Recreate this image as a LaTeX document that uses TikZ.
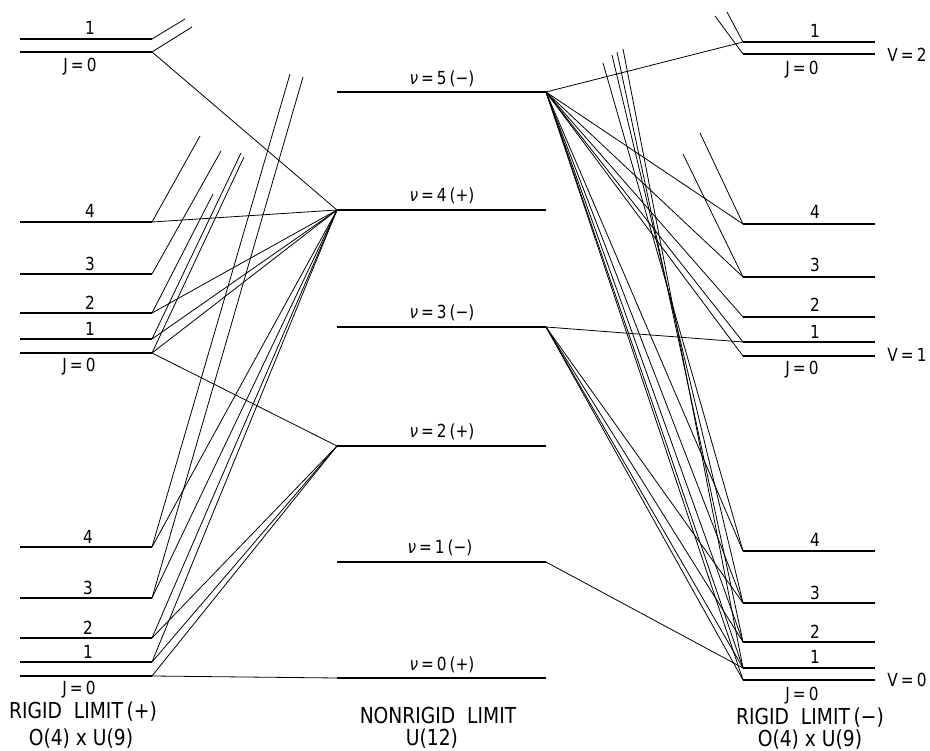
\documentclass[tikz,border=0pt]{standalone}
\usepackage{fontspec}
\setmainfont{DejaVu Sans}
\newfontfamily\nar[FakeStretch=0.85]{DejaVu Sans}
\newcommand{\nuv}{{\itshape ν}}
\begin{document}
\begin{tikzpicture}[x=1pt,y=-1pt,
  lvl/.style={line width=2.6pt},
  conn/.style={line width=0.8pt},
  lab/.style={font=\nar\fontsize{18}{18}\selectfont,inner sep=0pt},
  captxt/.style={font=\nar\fontsize{22}{22}\selectfont,inner sep=0pt}]
\useasboundingbox (0,0) rectangle (930,751);
% ---------- left level end points ----------
\coordinate (LA1) at (152,39);  \coordinate (LA0) at (152,52);
\coordinate (LB4) at (152,222); \coordinate (LB3) at (152,274);
\coordinate (LB2) at (152,313); \coordinate (LB1) at (152,339);
\coordinate (LB0) at (152,353);
\coordinate (LC4) at (152,547); \coordinate (LC3) at (152,598);
\coordinate (LC2) at (152,638); \coordinate (LC1) at (152,662);
\coordinate (LC0) at (152,676);
% ---------- centre ----------
\foreach \n/\y in {5/92,4/210,3/327,2/446,1/562,0/678}{
  \coordinate (N\n w) at (337,\y); \coordinate (N\n e) at (546,\y);}
% ---------- right ----------
\coordinate (RA1) at (743,42);  \coordinate (RA0) at (743,54);
\coordinate (RB4) at (743,224); \coordinate (RB3) at (743,277);
\coordinate (RB2) at (743,317); \coordinate (RB1) at (743,342);
\coordinate (RB0) at (743,356);
\coordinate (RC4) at (743,551); \coordinate (RC3) at (743,603);
\coordinate (RC2) at (743,642); \coordinate (RC1) at (743,668);
\coordinate (RC0) at (743,680);
% ---------- free (truncated) ends ----------
\coordinate (tLA1) at (185,19); \coordinate (tLA0) at (192,27);
\coordinate (tLB4) at (200,136); \coordinate (tLB3) at (221,151);
\coordinate (tLB2) at (213,194); \coordinate (tLB1) at (241,153);
\coordinate (tLB0) at (244,157);
\coordinate (tLC4) at (290,74); \coordinate (tLC3) at (303,77);
\coordinate (tRA1) at (727,12); \coordinate (tRA0) at (715,16);
\coordinate (tRB4) at (700,133); \coordinate (tRB3) at (683,154);
\coordinate (tRC4) at (603,63); \coordinate (tRC3) at (612,55);
\coordinate (tRC2) at (617,52); \coordinate (tRC1) at (623,49);
% ---------- level lines ----------
\foreach \p/\y in {LA1/39,LA0/52,LB4/222,LB3/274,LB2/313,LB1/339,LB0/353,
  LC4/547,LC3/598,LC2/638,LC1/662,LC0/676}{
  \draw[lvl] (20,\y) -- (\p);}
\foreach \n in {0,...,5}{\draw[lvl] (N\n w) -- (N\n e);}
\foreach \p/\y in {RA1/42,RA0/54,RB4/224,RB3/277,RB2/317,RB1/342,RB0/356,
  RC4/551,RC3/603,RC2/642,RC1/668,RC0/680}{
  \draw[lvl] (\p) -- (875,\y);}
% ---------- left connectors ----------
\draw[conn] (LA1) -- (tLA1);
\draw[conn] (LA0) -- (tLA0);
\draw[conn] (LA0) -- (N4w);
\draw[conn] (LB4) -- (tLB4);
\draw[conn] (LB4) -- (N4w);
\draw[conn] (LB3) -- (tLB3);
\draw[conn] (LB2) -- (tLB2);
\draw[conn] (LB2) -- (N4w);
\draw[conn] (LB1) -- (tLB1);
\draw[conn] (LB1) -- (N4w);
\draw[conn] (LB0) -- (tLB0);
\draw[conn] (LB0) -- (N4w);
\draw[conn] (LB0) -- (N2w);
\draw[conn] (LC4) -- (tLC4);
\draw[conn] (LC4) -- (N4w);
\draw[conn] (LC3) -- (tLC3);
\draw[conn] (LC3) -- (N4w);
\draw[conn] (LC2) -- (N4w);
\draw[conn] (LC2) -- (N2w);
\draw[conn] (LC1) -- (N4w);
\draw[conn] (LC1) -- (N2w);
\draw[conn] (LC0) -- (N2w);
\draw[conn] (LC0) -- (N0w);
% ---------- right connectors ----------
\draw[conn] (N5e) -- (RA1);
\draw[conn] (RA1) -- (tRA1);
\draw[conn] (RA0) -- (tRA0);
\foreach \p in {RB4,RB3,RB2,RB1,RB0}{\draw[conn] (N5e) -- (\p);}
\draw[conn] (RB4) -- (tRB4);
\draw[conn] (RB3) -- (tRB3);
\foreach \p in {RC4,RC3,RC2,RC1,RC0}{\draw[conn] (N5e) -- (\p);}
\draw[conn] (RC4) -- (tRC4);
\draw[conn] (RC3) -- (tRC3);
\draw[conn] (RC2) -- (tRC2);
\draw[conn] (RC1) -- (tRC1);
\draw[conn] (N3e) -- (RB1);
\foreach \p in {RC3,RC2,RC1,RC0}{\draw[conn] (N3e) -- (\p);}
\draw[conn] (N1e) -- (RC1);
% ---------- labels ----------
\node[lab] (lLA1) at (90,28) {1};
\node[lab] (lLA0) at (80,67) {J\,=\,0};
\node[lab] (lLB4) at (90,211) {4};
\node[lab] (lLB3) at (90,264) {3};
\node[lab] (lLB2) at (90,303) {2};
\node[lab] (lLB1) at (90,329) {1};
\node[lab] (lLB0) at (79,367) {J\,=\,0};
\node[lab] (lLC4) at (88,537) {4};
\node[lab] (lLC3) at (88,588) {3};
\node[lab] (lLC2) at (88,628) {2};
\node[lab] (lLC1) at (88,652) {1};
\node[lab] (lLC0) at (79,690) {J\,=\,0};
\node[lab] (lN5) at (442,79) {\nuv\,=\,5\,(−)};
\node[lab] (lN4) at (442,196) {\nuv\,=\,4\,(+)};
\node[lab] (lN3) at (442,313) {\nuv\,=\,3\,(−)};
\node[lab] (lN2) at (442,432) {\nuv\,=\,2\,(+)};
\node[lab] (lN1) at (440,548) {\nuv\,=\,1\,(−)};
\node[lab] (lN0) at (442,665) {\nuv\,=\,0\,(+)};
\node[lab] (lRA1) at (815,31) {1};
\node[lab] (lRA0) at (802,70) {J\,=\,0};
\node[lab] (lRB4) at (815,212) {4};
\node[lab] (lRB3) at (815,265) {3};
\node[lab] (lRB2) at (815,305) {2};
\node[lab] (lRB1) at (815,332) {1};
\node[lab] (lRB0) at (802,370) {J\,=\,0};
\node[lab] (lRC4) at (815,540) {4};
\node[lab] (lRC3) at (815,593) {3};
\node[lab] (lRC2) at (815,632) {2};
\node[lab] (lRC1) at (815,657) {1};
\node[lab] (lRC0) at (802,696) {J\,=\,0};
\node[lab] (vR2) at (907,55) {V\,=\,2};
\node[lab] (vR1) at (907,355) {V\,=\,1};
\node[lab] (vR0) at (907,680) {V\,=\,0};
\node[captxt] (cL1) at (83,712) {RIGID\ \ LIMIT\,(+)};
\node[captxt] (cL2) at (81,739) {O(4) x U(9)};
\node[captxt] (cC1) at (438,715) {NONRIGID\ \ LIMIT};
\node[captxt] (cC2) at (432,739) {U(12)};
\node[captxt] (cR1) at (810,718) {RIGID\ \ LIMIT\,(−)};
\node[captxt] (cR2) at (810,740) {O(4) x U(9)};
\end{tikzpicture}
\end{document}
